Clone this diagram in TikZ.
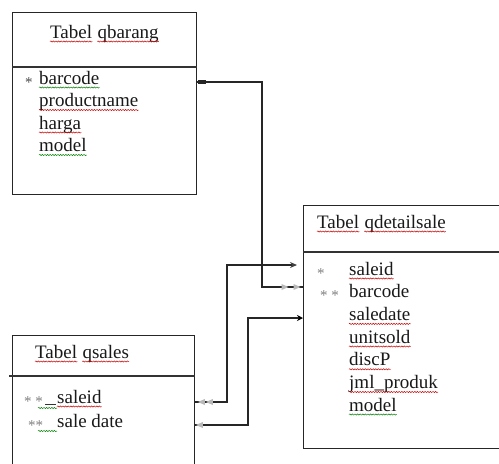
\documentclass[tikz,border=0pt]{standalone}
\usepackage{fontspec}
\setmainfont{Liberation Serif}
\usetikzlibrary{arrows.meta,decorations.pathmorphing,decorations.markings}
\begin{document}
\begin{tikzpicture}[x=1pt,y=-1pt,
  tablebox/.style={draw=black!85, line width=1.4pt, inner sep=0pt, anchor=north west},
  rule/.style={draw=black!80, line width=1.4pt},
  lbl/.style={inner sep=0pt, anchor=base west, font=\fontsize{19}{19}\selectfont, text=black!90},
  star/.style={inner sep=0pt, anchor=base west, font=\fontsize{15}{15}\selectfont, text=gray},
  link/.style={draw=black!85, line width=1.1pt},
  redwave/.style={draw=red!80!black, line width=0.5pt, decorate,
    decoration={snake, amplitude=0.6pt, segment length=2.6pt}},
  greenwave/.style={draw=green!50!black, line width=0.5pt, decorate,
    decoration={snake, amplitude=0.6pt, segment length=2.6pt}},
  fwdmark/.style={postaction={decorate, decoration={markings,
    mark=at position #1 with {\fill[gray!55] (-3.5pt,-3pt) -- (3.5pt,0pt) -- (-3.5pt,3pt) -- cycle;}}}},
  backmark/.style={postaction={decorate, decoration={markings,
    mark=at position #1 with {\fill[gray!55] (3.5pt,-3pt) -- (-3.5pt,0pt) -- (3.5pt,3pt) -- cycle;}}}},
  barmark/.style={postaction={decorate, decoration={markings,
    mark=at position #1 with {\fill[black!85] (-4pt,-1.8pt) rectangle (4pt,1.8pt);}}}},
]
\clip (0,0) rectangle (499,464);
\fill[white] (0,0) rectangle (499,464);

% ---- table boxes ----
\node[tablebox, minimum width=184pt, minimum height=182pt] (qbarang) at (12,12) {};
\draw[rule] ([yshift=-55pt]qbarang.north west) -- ([yshift=-55pt]qbarang.north east);

\node[tablebox, minimum width=220pt, minimum height=243pt] (qdetail) at (303,205) {};
\draw[rule] ([yshift=-47pt]qdetail.north west) -- ([yshift=-47pt]qdetail.north east);

\node[tablebox, minimum width=182pt, minimum height=150pt] (qsales) at (12,335) {};
\draw[rule] ([xshift=-3pt,yshift=-41pt]qsales.north west) -- ([yshift=-41pt]qsales.north east);

% ---- Tabel qbarang ----
\node[lbl] (qbT1) at (50,38) {Tabel};
\node[lbl] (qbT2) at ([xshift=5pt]qbT1.base east) {qbarang};
\node[star, text=black!70] (qbS1) at (25,87) {*};
\node[lbl] (qbF1) at (39,84) {barcode};
\node[lbl] (qbF2) at (39,106.5) {productname};
\node[lbl] (qbF3) at (39,129) {harga};
\node[lbl] (qbF4) at (39,151.5) {model};

% ---- Tabel qdetailsale ----
\node[lbl] (dtT1) at (317,228) {Tabel};
\node[lbl] (dtT2) at ([xshift=5pt]dtT1.base east) {qdetailsale};
\node[star] (dtS1) at (317,278) {*};
\node[star] (dtS2) at (320,300) {* *};
\node[lbl] (dtF1) at (349,275) {saleid};
\node[lbl] (dtF2) at (349,297.7) {barcode};
\node[lbl] (dtF3) at (349,320.4) {saledate};
\node[lbl] (dtF4) at (349,343) {unitsold};
\node[lbl] (dtF5) at (349,365.8) {discP};
\node[lbl] (dtF6) at (349,388.5) {jml\_produk};
\node[lbl] (dtF7) at (349,411) {model};

% ---- Tabel qsales ----
\node[lbl] (qsT1) at (35,358) {Tabel};
\node[lbl] (qsT2) at ([xshift=5pt]qsT1.base east) {qsales};
\node[star] (qsS1) at (24,406) {* *};
\node[star] (qsS2) at (28,430) {**};
\node[lbl] (qsF1) at (57,403) {saleid};
\node[lbl] (qsF2) at (57,427) {sale date};

% spell-check underlines
\foreach \n in {qbT1,qbT2,qbF2,qbF3,dtT1,dtT2,dtF1,dtF3,dtF4,dtF5,dtF6,qsT1,qsT2,qsF1}
  \draw[redwave] ([yshift=-3.5pt]\n.base west) -- ([yshift=-3.5pt]\n.base east);
\foreach \n in {qbF1,qbF4,dtF7}
  \draw[greenwave] ([yshift=-3.5pt]\n.base west) -- ([yshift=-3.5pt]\n.base east);
\draw[greenwave] ([xshift=-19pt,yshift=-5pt]qsF1.base west) -- ([yshift=-5pt]qsF1.base west);
\draw[greenwave] ([xshift=-19pt,yshift=-4pt]qsF2.base west) -- ([yshift=-4pt]qsF2.base west);
\draw[black!80, line width=0.6pt] ([xshift=-12pt,yshift=-1.5pt]qsF1.base west) -- ([xshift=-1pt,yshift=-1.5pt]qsF1.base west);

% ---- row levels and bend columns of the links ----
\coordinate (a1) at (0,82);
\coordinate (b1) at (0,287);
\coordinate (b2) at (0,265);
\coordinate (b3) at (0,318);
\coordinate (s1) at (0,402);
\coordinate (s2) at (0,425);
\coordinate (k1) at (262,0);
\coordinate (k2) at (227,0);
\coordinate (k3) at (248,0);
\path (qdetail.west |- b2) ++(-6,0) coordinate (e2);

% ---- links ----
\draw[link, barmark=5pt, fwdmark=-18pt, fwdmark=-6pt]
  (qbarang.east |- a1) -| (k1 |- b1) -- (qdetail.west |- b1);
\draw[link, backmark=6pt, backmark=14pt, -{Stealth[length=7pt,width=6pt,gray!50!black]}]
  (qsales.east |- s1) -| (k2 |- b2) -- (e2);
\draw[link, backmark=4pt, -{Stealth[length=6pt,width=6pt,black]}]
  (qsales.east |- s2) -| (k3 |- b3) -- (qdetail.west |- b3);
\end{tikzpicture}
\end{document}
